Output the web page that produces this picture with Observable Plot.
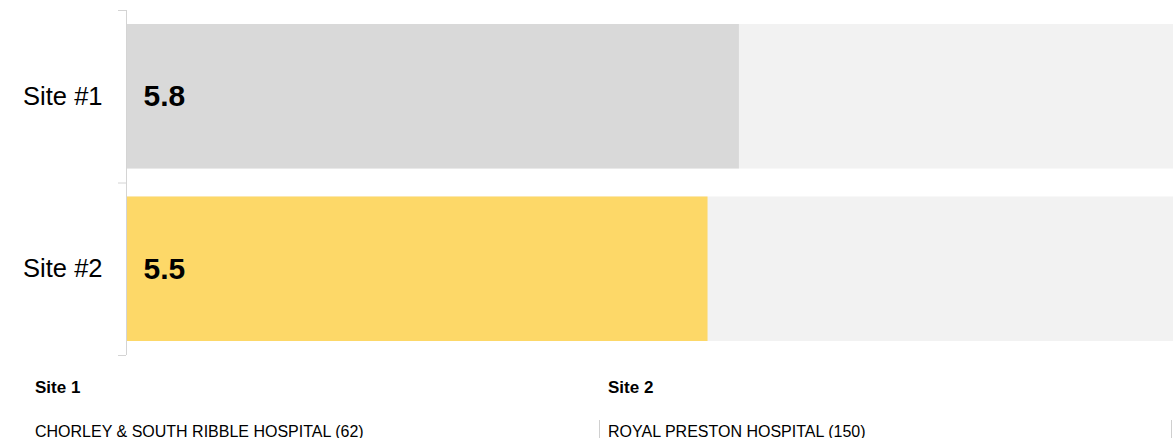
<!DOCTYPE html>
<html>
<head>
<meta charset="utf-8">
<script src="https://cdn.jsdelivr.net/npm/d3@7"></script>
<script src="https://cdn.jsdelivr.net/npm/@observablehq/plot@0.6"></script>
<style>
  html, body { margin: 0; padding: 0; background: #fff; overflow: hidden; }
  body { width: 1173px; height: 438px; font-family: "Liberation Sans", Arial, sans-serif; color: #000; }
  #chart svg { display: block; }
  #legend { position: relative; width: 1173px; height: 80px; }
  .col { position: absolute; top: 0; height: 80px; }
  .ttl { position: absolute; left: 8px; top: 21px; font-size: 17px; line-height: 1; font-weight: bold; white-space: nowrap; }
  .nm { position: absolute; left: 0; top: 62px; height: 18px; width: 100%; box-sizing: border-box; border-right: 1px solid #d0d0d0; }
  .nm span { position: absolute; left: 8px; top: 4px; font-size: 16px; line-height: 1; white-space: nowrap; }
</style>
</head>
<body>
<div id="chart"></div>
<div id="legend"></div>
<script>
const sites = ["Site #1", "Site #2"];
const values = [5.85, 5.55];
const valueLabels = ["5.8", "5.5"];
const maxValue = 10;
const siteColors = ["#d9d9d9", "#fdd868"];
const legendTitles = ["Site 1", "Site 2"];
const legendNames = ["CHORLEY & SOUTH RIBBLE HOSPITAL (62)", "ROYAL PRESTON HOSPITAL (150)"];

const data = sites.map((s, i) => ({site: s, i, value: values[i], label: valueLabels[i], max: maxValue}));
const boundaries = d3.range(sites.length + 1);

const chart = Plot.plot({
  width: 1173,
  height: 358,
  marginLeft: 127,
  marginRight: 0,
  marginTop: 10,
  marginBottom: 3,
  style: {fontFamily: '"Liberation Sans", Arial, sans-serif', color: "#000", background: "#fff"},
  x: {domain: [0, maxValue], axis: null, label: null},
  y: {domain: [0, sites.length], reverse: true, axis: null, label: null},
  color: {domain: sites, range: siteColors},
  marks: [
    Plot.rectX(data, {x1: 0, x2: "max", y1: "i", y2: d => d.i + 1, insetTop: 14, insetBottom: 14, fill: "#f2f2f2"}),
    Plot.rectX(data, {x1: 0, x2: "value", y1: "i", y2: d => d.i + 1, insetTop: 14, insetBottom: 14, fill: "site"}),
    Plot.ruleX([0], {stroke: "#d4d4d4", dx: -1}),
    Plot.axisY({ticks: boundaries, tickSize: 8, tickFormat: () => "", label: null, stroke: "#d4d4d4", dx: -1}),
    Plot.text(data, {x: 0, y: d => d.i + 0.5, text: "site", textAnchor: "end", dx: -25, fontSize: 25.5, fill: "#000"}),
    Plot.text(data, {x: 0, y: d => d.i + 0.5, text: "label", textAnchor: "start", dx: 16, fontSize: 30, fontWeight: "bold", fill: "#000"})
  ]
});
document.getElementById("chart").appendChild(chart);

const legend = d3.select("#legend");
const colLeft = 27, colWidth = 573;
legendTitles.forEach((t, i) => {
  const col = legend.append("div").attr("class", "col")
    .style("left", (colLeft + i * colWidth) + "px")
    .style("width", (colWidth - (i === legendTitles.length - 1 ? 1 : 0)) + "px");
  col.append("div").attr("class", "ttl").text(t);
  col.append("div").attr("class", "nm").append("span").text(legendNames[i]);
});
</script>
</body>
</html>
